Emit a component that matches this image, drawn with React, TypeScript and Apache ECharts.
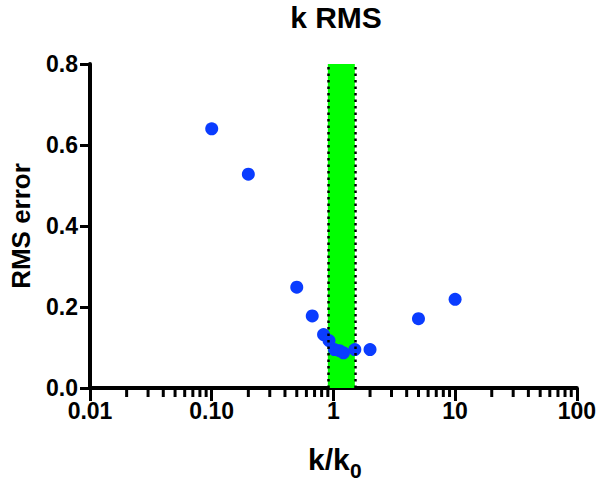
import React, { useEffect, useRef } from "react";
import * as echarts from "echarts";

// Data
const kRatio = [0.1, 0.2, 0.5, 0.67, 0.83, 0.92, 1.02, 1.12, 1.21, 1.5, 2.0, 5.0, 10.0];
const rmsError = [0.64, 0.528, 0.249, 0.178, 0.132, 0.117, 0.095, 0.092, 0.087, 0.095, 0.095, 0.171, 0.219];
const bandRange = [0.9, 1.5];
const yTicks = ["0.0", "0.2", "0.4", "0.6", "0.8"];
const xTickLabels = ["0.01", "0.10", "1", "10", "100"];
const decades = [0.01, 0.1, 1, 10];
const minorMultipliers = [2, 3, 4, 5, 6, 7, 8, 9];

const minorTicks: number[] = [];
decades.forEach((d) => minorMultipliers.forEach((m) => minorTicks.push(+(d * m).toPrecision(3))));

const FONT = "Liberation Sans";

export default function App() {
  const ref = useRef<HTMLDivElement>(null);
  useEffect(() => {
    if (!ref.current) return;
    const chart = echarts.init(ref.current, null, { renderer: "svg" });
    chart.setOption({
      animation: false,
      backgroundColor: "#ffffff",
      title: {
        text: "k RMS",
        left: 336,
        top: 2,
        padding: 0,
        textAlign: "center",
        textStyle: { fontFamily: FONT, fontWeight: "bold", fontSize: 30, color: "#000" },
      },
      grid: { left: 90, right: 21, top: 64, bottom: 95, containLabel: false },
      xAxis: {
        type: "log",
        logBase: 10,
        min: 0.01,
        max: 100,
        axisLine: { show: true, onZero: false, lineStyle: { color: "#000", width: 4 } },
        axisTick: { show: true, length: 13, lineStyle: { color: "#000", width: 3 } },
        axisLabel: {
          margin: 11,
          fontFamily: FONT,
          fontWeight: "bold",
          fontSize: 23,
          color: "#000",
          formatter: (v: number) => xTickLabels[Math.round(Math.log10(v)) + 2] ?? "",
        },
        splitLine: { show: false },
        minorTick: { show: false },
      },
      yAxis: {
        type: "value",
        min: 0,
        max: 0.8,
        interval: 0.2,
        axisLine: { show: true, lineStyle: { color: "#000", width: 4 } },
        axisTick: { show: true, length: 10, lineStyle: { color: "#000", width: 3 } },
        axisLabel: {
          margin: 12,
          fontFamily: FONT,
          fontWeight: "bold",
          fontSize: 23,
          color: "#000",
          formatter: (v: number) => yTicks[Math.round(v / 0.2)] ?? "",
        },
        splitLine: { show: false },
      },
      graphic: [
        {
          type: "text",
          x: 21,
          y: 226,
          rotation: Math.PI / 2,
          style: {
            text: "RMS error",
            fontFamily: FONT,
            fontWeight: "bold",
            fontSize: 26,
            fill: "#000",
            align: "center",
            verticalAlign: "middle",
          },
        },
        {
          type: "text",
          x: 308,
          y: 459.5,
          style: {
            text: "k/k",
            fontFamily: FONT,
            fontWeight: "bold",
            fontSize: 30,
            fill: "#000",
            align: "left",
            verticalAlign: "middle",
          },
        },
        {
          type: "text",
          x: 350,
          y: 470.5,
          style: {
            text: "0",
            fontFamily: FONT,
            fontWeight: "bold",
            fontSize: 21,
            fill: "#000",
            align: "left",
            verticalAlign: "middle",
          },
        },
      ],
      series: [
        {
          type: "line",
          data: [],
          z: 1,
          silent: true,
          markArea: {
            silent: true,
            itemStyle: { color: "#00ff00", opacity: 1, borderWidth: 0 },
            data: [[{ xAxis: bandRange[0], yAxis: 0 }, { xAxis: bandRange[1], yAxis: 0.8 }]],
          },
          markLine: {
            silent: true,
            symbol: ["none", "none"],
            label: { show: false },
            lineStyle: { color: "#000", width: 2.5, type: [2.5, 4], opacity: 1 },
            data: [{ xAxis: bandRange[0] }, { xAxis: bandRange[1] }],
          },
        },
        {
          type: "custom",
          z: 5,
          clip: false,
          silent: true,
          data: minorTicks.map((v) => [v, 0]),
          renderItem: (params: any, api: any) => {
            const p = api.coord([api.value(0), 0]);
            return {
              type: "line",
              shape: { x1: p[0], y1: p[1], x2: p[0], y2: p[1] + 9 },
              style: { stroke: "#000", lineWidth: 3 },
            };
          },
        },
        {
          type: "scatter",
          z: 3,
          symbol: "circle",
          symbolSize: 13,
          itemStyle: { color: "#0a3cff", opacity: 1 },
          data: kRatio.map((k, i) => [k, rmsError[i]]),
        },
      ],
    });
    return () => chart.dispose();
  }, []);
  return <div ref={ref} style={{ width: 599, height: 483, position: "absolute", left: 0, top: 0 }} />;
}
